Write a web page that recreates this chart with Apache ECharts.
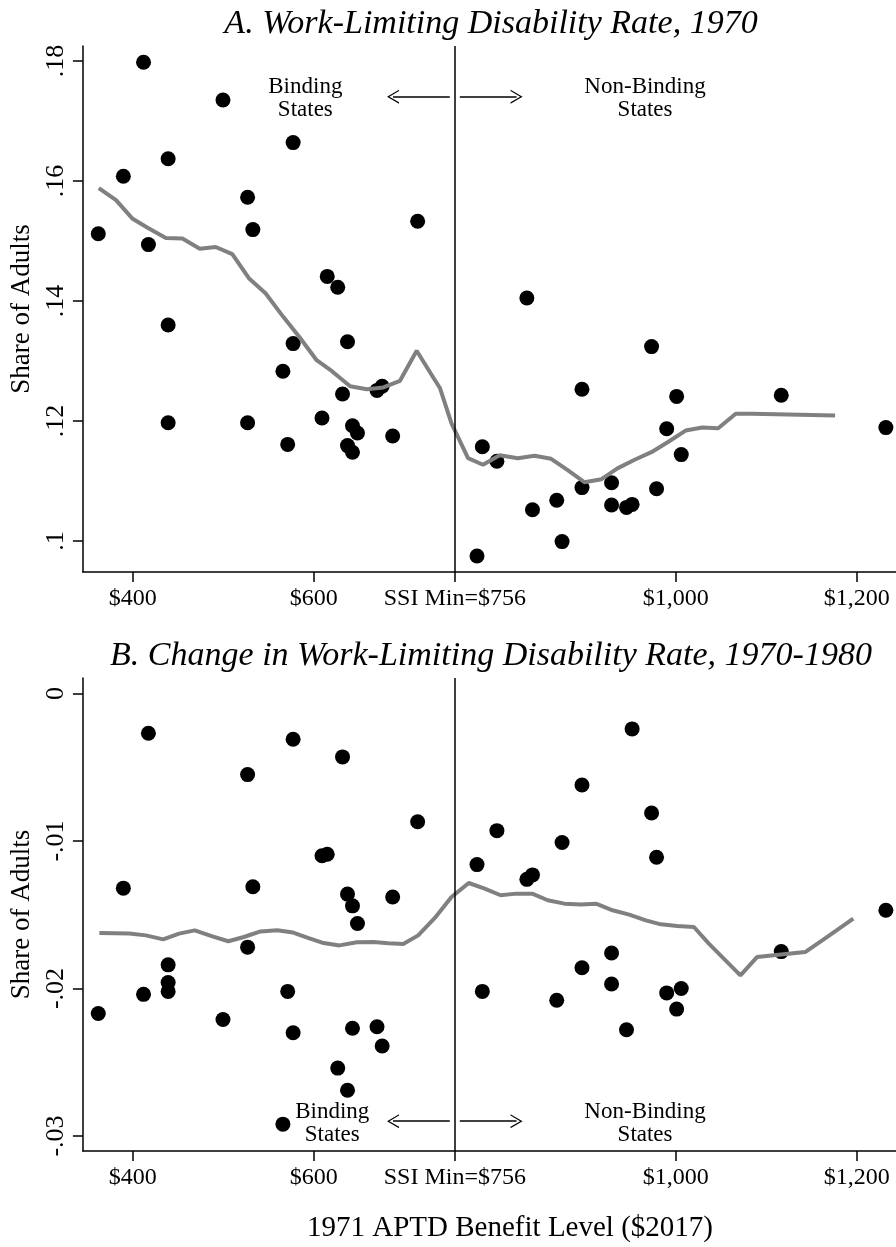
<!DOCTYPE html>
<html>
<head>
<meta charset="utf-8">
<script src="https://cdn.jsdelivr.net/npm/echarts@6/dist/echarts.min.js"></script>
<style>
  html, body { margin: 0; padding: 0; background: #fff; }
  #chart { width: 896px; height: 1247px; }
</style>
</head>
<body>
<div id="chart"></div>
<script>
// 1971 APTD benefit level of each state ($2017)
const benefit = [
  362, 389.7, 412, 417.4, 439.2, 439.2, 439.2, 499.8, 527, 527, 532.8, 566, 571.3, 577.3,
  577.3, 609.2, 615, 626.6, 631.9, 637.4, 637.4, 642.9, 642.9, 648.4, 670, 675.7, 687.3, 714.9,
  780.5, 786.4, 802.5, 835.6, 841.8, 868.6, 874.5, 896.5, 896.5, 929.2, 929.2, 945.7, 951.9,
  973.4, 978.9, 990.1, 1001.1, 1006.2, 1116.7, 1232.3
]
// A. 1970 work-limiting disability rate
const rate1970 = [
  0.1512, 0.1608, 0.1798, 0.1494, 0.1637, 0.1360, 0.1197, 0.1735, 0.1573, 0.1197, 0.1519, 0.1283, 0.1161, 0.1664,
  0.1329, 0.1205, 0.1441, 0.1423, 0.1245, 0.1332, 0.1159, 0.1192, 0.1148, 0.1180, 0.1251, 0.1258, 0.1175, 0.1533,
  0.0975, 0.1157, 0.1133, 0.1405, 0.1052, 0.1068, 0.0999, 0.1253, 0.1089, 0.1097, 0.1060, 0.1056, 0.1061,
  0.1324, 0.1087, 0.1187, 0.1241, 0.1144, 0.1243, 0.1189
]
// B. change 1970-1980
const change7080 = [
  -0.0217, -0.0132, -0.0204, -0.0027, -0.0184, -0.0196, -0.0202, -0.0221, -0.0055, -0.0172, -0.0131, -0.0292, -0.0202, -0.0031,
  -0.0230, -0.0110, -0.0109, -0.0254, -0.0043, -0.0136, -0.0269, -0.0144, -0.0227, -0.0156, -0.0226, -0.0239, -0.0138, -0.0087,
  -0.0116, -0.0202, -0.0093, -0.0126, -0.0123, -0.0208, -0.0101, -0.0062, -0.0186, -0.0176, -0.0197, -0.0228, -0.0024,
  -0.0081, -0.0111, -0.0203, -0.0214, -0.0200, -0.0175, -0.0147
]

// local fit lines
const fitAx = [362.6, 381.6, 400, 416.5, 436.7, 455, 474.1, 491.7, 510.1, 528.4, 546.8, 566.2, 584.2, 602.9, 620.2,
  640.3, 658.7, 677, 695.4, 713.8, 733.2, 739.5, 752.3, 770.6, 787.1, 805.5, 825.6, 844, 862.4, 880.7, 899.1,
  918.1, 935.7, 954.1, 973.2, 991.6, 1011, 1029.3, 1047, 1066.4, 1084.4, 1176.2]
const fitAy = [0.1588, 0.1568, 0.1537, 0.1522, 0.1505, 0.1504, 0.1487, 0.1490, 0.1478, 0.1438, 0.1413, 0.1374, 0.1340, 0.1302, 0.1283,
  0.1258, 0.1253, 0.1256, 0.1267, 0.1317, 0.1270, 0.1255, 0.1196, 0.1138, 0.1127, 0.1143, 0.1138, 0.1142, 0.1137, 0.1118, 0.1098,
  0.1103, 0.1121, 0.1135, 0.1148, 0.1165, 0.1184, 0.1189, 0.1188, 0.1212, 0.1212, 0.1209]
const fitBx = [363.2, 396.3, 414.6, 433.7, 451.3, 468.6, 488.1, 505.7, 522.9, 541.3, 559.7, 577.3, 594.5, 611, 628.6,
  647.7, 666, 682.5, 699, 715.5, 733.9, 752.3, 771.4, 789, 806.6, 823.9, 841.5, 858.7, 877.1, 895.5, 912,
  930.3, 948.7, 967.1, 983.6, 1001.8, 1020.2, 1036.7, 1055.1, 1071.6, 1089.9, 1143.1, 1165.2, 1196.3]
const fitBy = [-0.01624, -0.01628, -0.0164, -0.01667, -0.01628, -0.01606, -0.01647, -0.0168, -0.01651, -0.01613, -0.01606, -0.01621, -0.01658, -0.01692, -0.01708,
  -0.01687, -0.01685, -0.01694, -0.01699, -0.0164, -0.01522, -0.0138, -0.01285, -0.01323, -0.01368, -0.01357, -0.01357, -0.01402, -0.01425, -0.0143, -0.01425,
  -0.0147, -0.01499, -0.01538, -0.01565, -0.01577, -0.01583, -0.01696, -0.01809, -0.01911, -0.01787, -0.01753, -0.0166, -0.01526]

const ssiMin = 756
const xTickVals = [400, 600, 756, 1000, 1200]
const xTickLabels = ['$400', '$600', 'SSI Min=$756', '$1,000', '$1,200']
const yTicksA = [0.10, 0.12, 0.14, 0.16, 0.18]
const yTickLabelsA = ['.1', '.12', '.14', '.16', '.18']
const yTicksB = [-0.03, -0.02, -0.01, 0]
const yTickLabelsB = ['-.03', '-.02', '-.01', '0']

const FONT = "'Liberation Serif', 'Times New Roman', serif"
const chevron = 'path://M7,0 L14,12 L12.6,12 L7,2.4 L1.4,12 L0,12 Z'

function xAxisOf(gridIndex) {
  return {
    type: 'value', gridIndex: gridIndex, min: 345, max: 1243.5,
    splitLine: { show: false },
    axisLine: { onZero: false, lineStyle: { color: '#000', width: 1.5 } },
    axisTick: { customValues: xTickVals, length: 10, lineStyle: { color: '#000', width: 1.5 } },
    axisLabel: {
      customValues: xTickVals, margin: 15, fontFamily: FONT, fontSize: 24, color: '#000',
      formatter: v => xTickLabels[xTickVals.indexOf(v)]
    }
  }
}
function yAxisOf(gridIndex, min, max, ticks, labels) {
  return {
    type: 'value', gridIndex: gridIndex, min: min, max: max,
    name: 'Share of Adults', nameLocation: 'middle', nameRotate: 90, nameGap: 41,
    nameTextStyle: { fontFamily: FONT, fontSize: 27, color: '#000' },
    splitLine: { show: false },
    axisLine: { show: true, onZero: false, lineStyle: { color: '#000', width: 1.5 } },
    axisTick: { customValues: ticks, length: 10, lineStyle: { color: '#000', width: 1.5 } },
    axisLabel: {
      customValues: ticks, rotate: 90, margin: 14, fontFamily: FONT, fontSize: 26, color: '#000',
      formatter: v => labels[ticks.indexOf(v)]
    }
  }
}
function notes(leftX, rightX, y) {
  return {
    silent: true,
    symbol: 'circle',
    symbolSize: 1,
    itemStyle: { color: 'rgba(0,0,0,0)' },
    label: { show: true, position: 'inside', fontFamily: FONT, fontSize: 23, lineHeight: 23, color: '#000' },
    data: [
      { coord: [leftX, y], value: 0, label: { formatter: 'Binding\nStates' } },
      { coord: [rightX, y], value: 0, label: { formatter: 'Non-Binding\nStates' } }
    ]
  }
}
function lines(y) {
  return {
    silent: true,
    symbol: 'none',
    label: { show: false },
    lineStyle: { color: '#000', width: 1.5, type: 'solid' },
    data: [
      { xAxis: ssiMin, symbol: 'none' },
      [{ coord: [750.4, y], symbol: 'none' }, { coord: [687.7, y], symbol: chevron, symbolSize: [14, 12] }],
      [{ coord: [761.5, y], symbol: 'none' }, { coord: [824.2, y], symbol: chevron, symbolSize: [14, 12] }]
    ]
  }
}

const chart = echarts.init(document.getElementById('chart'))
chart.setOption({
  animation: false,
  backgroundColor: '#fff',
  title: [
    { text: 'A. Work-Limiting Disability Rate, 1970', left: 491, top: 7, textAlign: 'center', padding: 0,
      textStyle: { fontFamily: FONT, fontStyle: 'italic', fontWeight: 'normal', fontSize: 34, color: '#000' } },
    { text: 'B. Change in Work-Limiting Disability Rate, 1970-1980', left: 491, top: 639, textAlign: 'center', padding: 0,
      textStyle: { fontFamily: FONT, fontStyle: 'italic', fontWeight: 'normal', fontSize: 34, color: '#000' } },
    { text: '1971 APTD Benefit Level ($2017)', left: 510, top: 1214, textAlign: 'center', padding: 0,
      textStyle: { fontFamily: FONT, fontWeight: 'normal', fontSize: 29, color: '#000' } }
  ],
  grid: [
    { left: 82, top: 46, width: 816, height: 526 },
    { left: 82, top: 678, width: 816, height: 473 }
  ],
  xAxis: [xAxisOf(0), xAxisOf(1)],
  yAxis: [
    yAxisOf(0, 0.09483, 0.1825, yTicksA, yTickLabelsA),
    yAxisOf(1, -0.03102, 0.00105, yTicksB, yTickLabelsB)
  ],
  series: [
    {
      type: 'scatter', xAxisIndex: 0, yAxisIndex: 0, symbolSize: 15,
      itemStyle: { color: '#000', opacity: 1 },
      data: benefit.map((x, i) => [x, rate1970[i]]),
      markLine: lines(0.17405),
      markPoint: notes(590.8, 966.2, 0.17375)
    },
    {
      type: 'line', xAxisIndex: 0, yAxisIndex: 0, showSymbol: false, z: 3,
      lineStyle: { color: '#808080', width: 4 },
      data: fitAx.map((x, i) => [x, fitAy[i]])
    },
    {
      type: 'scatter', xAxisIndex: 1, yAxisIndex: 1, symbolSize: 15,
      itemStyle: { color: '#000', opacity: 1 },
      data: benefit.map((x, i) => [x, change7080[i]]),
      markLine: lines(-0.0290),
      markPoint: notes(620.5, 966.2, -0.02917)
    },
    {
      type: 'line', xAxisIndex: 1, yAxisIndex: 1, showSymbol: false, z: 3,
      lineStyle: { color: '#808080', width: 4 },
      data: fitBx.map((x, i) => [x, fitBy[i]])
    }
  ]
})
</script>
</body>
</html>
